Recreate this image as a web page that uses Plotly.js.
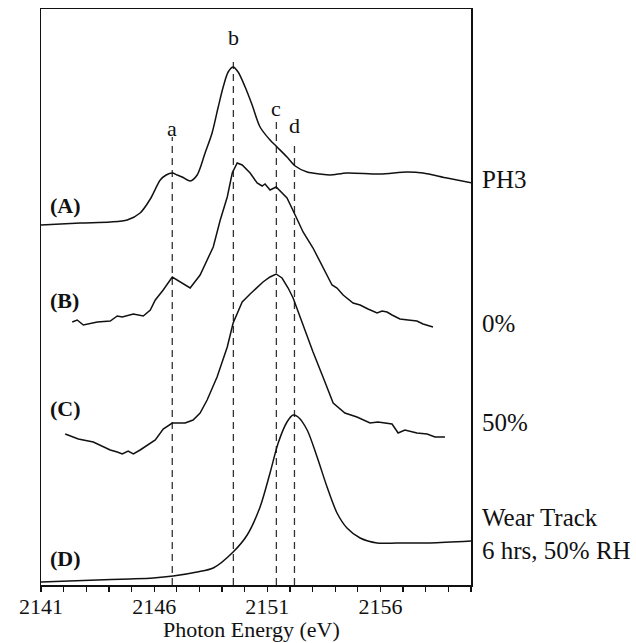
<!DOCTYPE html>
<html>
<head>
<meta charset="utf-8">
<script src="https://cdn.plot.ly/plotly-3.0.1.min.js"></script>
<style>
  html, body { margin: 0; padding: 0; background: #fff; }
  #chart { width: 636px; height: 643px; }
</style>
</head>
<body>
<div id="chart"></div>
<script>
// Sulfur K-edge XANES spectra, stacked with vertical offsets (arbitrary units)

// (A) PH3 reference
const energyA = [2140.92, 2142.74, 2144.06, 2144.81, 2145.38, 2145.83, 2146.27, 2146.53, 2146.80, 2147.02,
                 2147.24, 2147.59, 2147.90, 2148.25, 2148.56, 2148.83, 2149.05, 2149.27, 2149.49, 2149.71,
                 2150.02, 2150.33, 2150.68, 2151.12, 2151.43, 2151.87, 2152.23, 2152.76, 2153.33, 2153.77,
                 2154.52, 2155.98, 2157.17, 2157.88, 2158.94, 2160.08];
const intensityA = [3.60, 3.62, 3.63, 3.65, 3.72, 3.86, 4.05, 4.10, 4.12, 4.10,
                    4.08, 4.04, 4.10, 4.32, 4.52, 4.78, 4.98, 5.13, 5.18, 5.13,
                    4.98, 4.80, 4.58, 4.45, 4.38, 4.28, 4.19, 4.13, 4.11, 4.10,
                    4.12, 4.11, 4.13, 4.12, 4.07, 4.02];

// (B) 0% RH
const energyB = [2142.38, 2142.60, 2142.87, 2143.49, 2144.06, 2144.37, 2144.59, 2145.08, 2145.52, 2145.83,
                 2146.05, 2146.40, 2146.80, 2147.24, 2147.59, 2148.03, 2148.34, 2148.61, 2148.92, 2149.23,
                 2149.45, 2149.67, 2149.89, 2150.24, 2150.55, 2150.77, 2150.90, 2151.12, 2151.39, 2151.65,
                 2151.87, 2152.23, 2152.58, 2153.02, 2153.42, 2153.86, 2154.08, 2154.35, 2154.79, 2155.10,
                 2155.45, 2155.85, 2156.07, 2156.29, 2156.51, 2156.86, 2157.22, 2157.61, 2157.88, 2158.32];
const intensityB = [2.63, 2.65, 2.60, 2.63, 2.64, 2.69, 2.68, 2.71, 2.69, 2.75,
                    2.85, 2.95, 3.08, 3.02, 2.97, 3.10, 3.25, 3.38, 3.65, 3.88,
                    4.12, 4.22, 4.20, 4.12, 4.02, 3.99, 4.01, 3.95, 3.98, 3.92,
                    3.87, 3.70, 3.53, 3.37, 3.20, 3.00, 2.97, 2.90, 2.82, 2.80,
                    2.76, 2.72, 2.74, 2.73, 2.70, 2.66, 2.65, 2.64, 2.61, 2.58];

// (C) 50% RH
const energyC = [2142.07, 2142.65, 2143.31, 2143.71, 2144.06, 2144.37, 2144.59, 2144.85, 2145.08, 2145.38,
                 2145.74, 2146.05, 2146.40, 2146.80, 2147.37, 2147.72, 2148.03, 2148.34, 2148.78, 2149.23,
                 2149.49, 2149.89, 2150.24, 2150.81, 2151.12, 2151.39, 2151.65, 2151.92, 2152.14, 2152.58,
                 2153.02, 2153.46, 2153.91, 2154.43, 2154.96, 2155.54, 2155.89, 2156.51, 2156.78, 2157.08,
                 2157.61, 2158.06, 2158.41, 2158.85];
const intensityC = [1.51, 1.46, 1.43, 1.39, 1.35, 1.33, 1.31, 1.34, 1.31, 1.35,
                    1.40, 1.45, 1.56, 1.62, 1.62, 1.65, 1.72, 1.85, 2.08, 2.38,
                    2.62, 2.83, 2.91, 3.03, 3.08, 3.11, 3.07, 2.97, 2.87, 2.59,
                    2.33, 2.08, 1.82, 1.72, 1.68, 1.62, 1.63, 1.61, 1.52, 1.55,
                    1.52, 1.51, 1.48, 1.48];

// (D) wear track, 6 hrs, 50% RH
const energyD = [2140.84, 2143.49, 2144.94, 2145.96, 2146.84, 2147.90, 2148.61, 2149.49, 2150.11, 2150.68,
                 2151.12, 2151.48, 2151.87, 2152.14, 2152.36, 2152.76, 2153.20, 2153.64, 2154.08, 2154.52,
                 2155.10, 2155.85, 2156.73, 2158.19, 2160.09];
const intensityD = [0.03, 0.05, 0.06, 0.07, 0.09, 0.13, 0.17, 0.33, 0.50, 0.78,
                    1.12, 1.42, 1.63, 1.70, 1.68, 1.55, 1.28, 0.98, 0.72, 0.57,
                    0.47, 0.42, 0.42, 0.42, 0.44];

// Feature positions (eV) marked with dashed lines
const featureNames = ['a', 'b', 'c', 'd'];
const featureEnergy = [2146.8, 2149.5, 2151.4, 2152.2];
const featureLineTop = [4.48, 5.24, 4.65, 4.40];
const featureLabelY = [4.57, 5.48, 4.77, 4.60];

// Curve labels
const curveTags = ['(A)', '(B)', '(C)', '(D)'];
const curveTagY = [3.80, 2.85, 1.77, 0.27];
const sampleNames = ['PH3', '0%', '50%', 'Wear Track<br>6 hrs, 50% RH'];
const sampleNameY = [4.06, 2.62, 1.63, 0.51];

const tickEnergies = [2141, 2146, 2151, 2156];
const xAxisTitle = 'Photon Energy (eV)';

const serif = 'Liberation Serif, Times New Roman, serif';
const traces = [];

// dashed guide lines
featureEnergy.forEach((e, i) => {
  traces.push({
    x: [e, e], y: [0, featureLineTop[i]],
    mode: 'lines', type: 'scatter', hoverinfo: 'skip', showlegend: false,
    line: { color: '#333', width: 1.3, dash: '7px,5px' }
  });
});

const spectra = [
  [energyA, intensityA, 'spline'],
  [energyB, intensityB, 'linear'],
  [energyC, intensityC, 'linear'],
  [energyD, intensityD, 'spline']
];
spectra.forEach(([x, y, shape]) => {
  traces.push({
    x: x, y: y, mode: 'lines', type: 'scatter', showlegend: false,
    cliponaxis: false,
    line: { color: '#111', width: 1.5, shape: shape, smoothing: 0.8 }
  });
});

const annotations = [];
featureNames.forEach((n, i) => {
  annotations.push({
    x: featureEnergy[i], y: featureLabelY[i], xref: 'x', yref: 'y',
    text: n, showarrow: false, xanchor: 'center', yanchor: 'middle',
    font: { family: serif, size: 22, color: '#111' }
  });
});
curveTags.forEach((t, i) => {
  annotations.push({
    x: 2141.3, y: curveTagY[i], xref: 'x', yref: 'y',
    text: '<b>' + t + '</b>', showarrow: false, xanchor: 'left', yanchor: 'middle',
    font: { family: serif, size: 22, color: '#111' }
  });
});
// sample names sit in the right margin, just past the frame
sampleNames.forEach((t, i) => {
  annotations.push({
    x: 1.021, y: sampleNameY[i], xref: 'paper', yref: 'y',
    text: t, showarrow: false, xanchor: 'left', yanchor: 'middle', align: 'left',
    font: { family: serif, size: 25, color: '#111' }
  });
});
// x-axis caption, placed under the tick labels
annotations.push({
  x: 0.49, y: -0.0773, xref: 'paper', yref: 'paper',
  text: xAxisTitle, showarrow: false, xanchor: 'center', yanchor: 'middle',
  font: { family: serif, size: 22, color: '#111' }
});

const layout = {
  width: 636, height: 643,
  margin: { l: 40.5, r: 165, t: 9, b: 58 },
  paper_bgcolor: '#fff', plot_bgcolor: '#fff',
  showlegend: false,
  xaxis: {
    range: [2141, 2160],
    tickvals: tickEnergies, ticktext: tickEnergies.map(String),
    ticks: 'outside', ticklen: 5, tickwidth: 1.3, tickcolor: '#111',
    ticklabelstandoff: -4,
    minor: { dtick: 1, tick0: 2141, ticks: 'outside', ticklen: 5, tickwidth: 1.3, tickcolor: '#111' },
    showgrid: false, zeroline: false,
    showline: true, linecolor: '#111', linewidth: 1.5, mirror: true,
    tickfont: { family: serif, size: 22, color: '#111' }
  },
  yaxis: {
    range: [0, 5.76],
    showticklabels: false, ticks: '', showgrid: false, zeroline: false,
    showline: true, linecolor: '#111', linewidth: 1.5, mirror: true
  },
  annotations: annotations
};

Plotly.newPlot('chart', traces, layout, { displayModeBar: false, staticPlot: true });
</script>
</body>
</html>
